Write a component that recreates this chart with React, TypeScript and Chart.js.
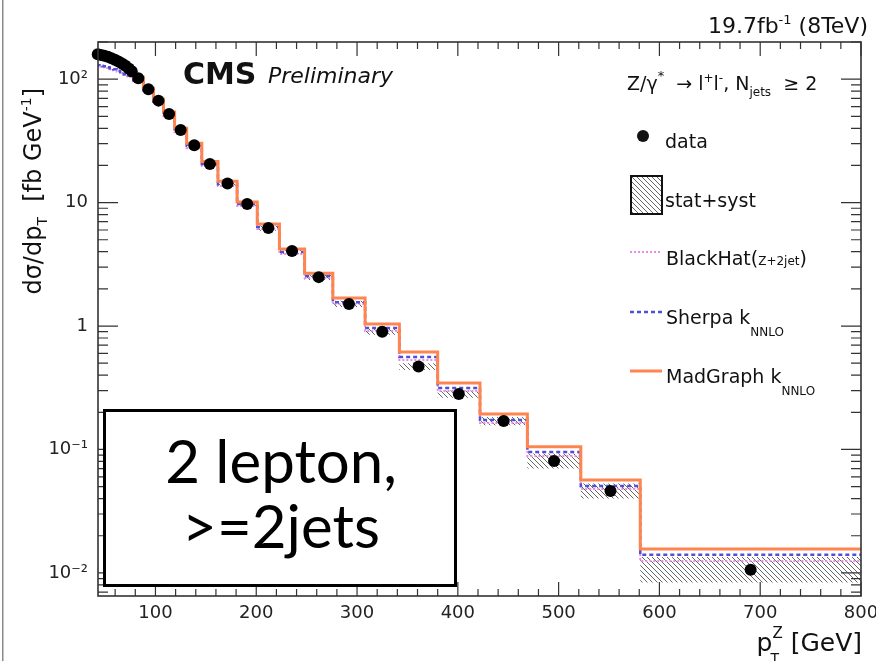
import React, { useEffect, useRef } from "react";
import { Chart, registerables } from "chart.js";

Chart.register(...registerables);

// pT(Z) bin edges [GeV]
const binEdges = [
  41, 44.5, 47.5, 51, 54.5, 58, 61.5, 65, 68.5, 72, 75, 78, 88, 98, 108, 119, 131, 146, 162, 181, 201,
  223, 248, 276, 308, 342, 380, 422, 469, 522, 581, 800,
];

// measured dσ/dpT [fb/GeV], one value per bin
const dataValues = [
  159.4, 157.0, 154.7, 151.9, 147.9, 143.8, 139.1, 134.0, 128.6, 122.1, 116.1, 101.9, 83.0, 67.0, 52.1,
  38.7, 29.2, 20.5, 14.3, 9.73, 6.22, 4.05, 2.49, 1.51, 0.9, 0.47, 0.281, 0.17, 0.0807, 0.0461, 0.0106,
];

// relative stat+syst uncertainty on the measurement
const statSystRel = [
  0.04, 0.04, 0.04, 0.04, 0.04, 0.04, 0.04, 0.04, 0.04, 0.04, 0.04, 0.04, 0.04, 0.04, 0.04, 0.04, 0.04,
  0.045, 0.045, 0.05, 0.05, 0.05, 0.055, 0.06, 0.06, 0.065, 0.07, 0.08, 0.15, 0.15, 0.27,
];

// theory predictions [fb/GeV]
const blackHatValues = [
  127, 126, 125, 123, 120.5, 118, 115, 112, 108, 105, 102, 96.3, 80.0, 65.2, 50.1, 37.2, 27.6, 19.8, 13.6,
  9.37, 6.1, 3.83, 2.45, 1.51, 0.911, 0.531, 0.298, 0.164, 0.0886, 0.0478, 0.0125,
];
const sherpaValues = [
  129.8, 128.6, 127.4, 125.1, 122.8, 120.5, 117.2, 114.0, 109.8, 106.7, 103.8, 98.1, 81.5, 65.8, 51.2,
  37.9, 28.7, 20.5, 14.1, 9.73, 6.34, 3.97, 2.54, 1.56, 0.963, 0.561, 0.315, 0.173, 0.0955, 0.0506, 0.014,
];
const madGraphValues = [
  158, 156, 154, 151, 147, 143, 138.5, 133.5, 128, 121.5, 115.5, 103.8, 84.5, 68.9, 54.1, 40.1, 30.3, 21.5,
  14.9, 10.1, 6.7, 4.2, 2.68, 1.69, 1.04, 0.615, 0.345, 0.194, 0.105, 0.0566, 0.0156,
];

const xTickValues = [100, 200, 300, 400, 500, 600, 700, 800];
const yTickValues = [0.01, 0.1, 1, 10, 100];
const yTickLabels = ["10⁻²", "10⁻¹", "1", "10", "10²"];

const X_MIN = 43;
const X_MAX = 800;
const Y_MIN = 0.0065;
const Y_MAX = 200;

const ROOT_FONT = '"DejaVu Sans", "Liberation Sans", sans-serif';
const AXIS_COLOR = "#333";
const ORANGE = "rgb(255,133,80)";
const BLUE = "rgb(80,80,215)";
const PINK = "rgb(232,140,232)";

type Pt = { x: number; y: number };

function stepSeries(values: number[]): Pt[] {
  return binEdges.map((x, i) => ({ x, y: values[Math.min(i, values.length - 1)] }));
}

function centerSeries(values: number[]): Pt[] {
  return values.map((y, i) => ({ x: (binEdges[i] + binEdges[i + 1]) / 2, y }));
}

function makeHatch(ctx: CanvasRenderingContext2D): CanvasPattern {
  const size = 5;
  const tile = document.createElement("canvas");
  tile.width = size;
  tile.height = size;
  const g = tile.getContext("2d")!;
  g.strokeStyle = "#666";
  g.lineWidth = 1;
  g.beginPath();
  g.moveTo(-1, -1);
  g.lineTo(size + 1, size + 1);
  g.moveTo(-1, size - 1);
  g.lineTo(1, size + 1);
  g.moveTo(size - 1, -1);
  g.lineTo(size + 1, 1);
  g.stroke();
  return ctx.createPattern(tile, "repeat")!;
}

type Run = { t: string; size?: number; dy?: number; weight?: string; style?: string; family?: string };

function runFont(r: Run, base: number) {
  return `${r.style ?? "normal"} ${r.weight ?? "normal"} ${r.size ?? base}px ${r.family ?? ROOT_FONT}`;
}

function measureRuns(ctx: CanvasRenderingContext2D, runs: Run[], base: number) {
  let w = 0;
  for (const r of runs) {
    ctx.font = runFont(r, base);
    w += ctx.measureText(r.t).width;
  }
  return w;
}

function drawRuns(ctx: CanvasRenderingContext2D, x: number, y: number, runs: Run[], base: number) {
  let cx = x;
  for (const r of runs) {
    ctx.font = runFont(r, base);
    ctx.fillText(r.t, cx, y + (r.dy ?? 0));
    cx += ctx.measureText(r.t).width;
  }
  return cx;
}

// ROOT-style frame with inward tick marks on all four sides
const framePlugin = {
  id: "rootFrame",
  afterDatasetsDraw(chart: any) {
    const { ctx, chartArea: a, scales } = chart;
    const xs = scales.x;
    const ys = scales.y;
    ctx.save();
    ctx.strokeStyle = AXIS_COLOR;
    ctx.lineWidth = 1.2;
    ctx.beginPath();
    for (let v = 20 * Math.ceil(X_MIN / 20); v <= X_MAX; v += 20) {
      const px = xs.getPixelForValue(v);
      const len = v % 100 === 0 ? 14 : 7;
      ctx.moveTo(px, a.bottom);
      ctx.lineTo(px, a.bottom - len);
      ctx.moveTo(px, a.top);
      ctx.lineTo(px, a.top + len);
    }
    for (let e = -3; e <= 2; e++) {
      for (let m = 1; m <= 9; m++) {
        const v = m * Math.pow(10, e);
        if (v < Y_MIN || v > Y_MAX) continue;
        const py = ys.getPixelForValue(v);
        const len = m === 1 ? 20 : 10;
        ctx.moveTo(a.left, py);
        ctx.lineTo(a.left + len, py);
        ctx.moveTo(a.right, py);
        ctx.lineTo(a.right - len, py);
      }
    }
    ctx.stroke();
    ctx.lineWidth = 1.6;
    ctx.strokeRect(a.left, a.top, a.right - a.left, a.bottom - a.top);
    ctx.restore();
  },
};

const annotationPlugin = {
  id: "annotations",
  afterDraw(chart: any) {
    const ctx: CanvasRenderingContext2D = chart.ctx;
    const hatch = makeHatch(ctx);
    ctx.save();
    ctx.textAlign = "left";
    ctx.textBaseline = "alphabetic";

    // page edge rule
    ctx.fillStyle = "#8a8a8a";
    ctx.fillRect(2, 0, 1.5, chart.height);

    ctx.fillStyle = "#111";

    // luminosity and energy
    const lumi: Run[] = [{ t: "19.7fb" }, { t: "-1", size: 13, dy: -9 }, { t: " (8TeV)" }];
    const lw = measureRuns(ctx, lumi, 22);
    drawRuns(ctx, 868 - lw, 33, lumi, 22);

    // experiment label
    drawRuns(ctx, 183, 84, [{ t: "CMS", weight: "bold" }], 30);
    drawRuns(ctx, 268, 83, [{ t: "Preliminary", style: "italic" }], 22);

    // legend header
    drawRuns(
      ctx,
      627,
      90,
      [
        { t: "Z/γ" },
        { t: "*", size: 13, dy: -10 },
        { t: "  → l" },
        { t: "+", size: 12, dy: -8 },
        { t: "l" },
        { t: "-", size: 12, dy: -8 },
        { t: ", N" },
        { t: "jets", size: 12, dy: 6 },
        { t: "  ≥ 2" },
      ],
      19
    );

    // legend: data
    ctx.beginPath();
    ctx.arc(643, 136, 6, 0, Math.PI * 2);
    ctx.fill();
    drawRuns(ctx, 665, 148, [{ t: "data" }], 19);

    // legend: stat+syst
    ctx.fillStyle = hatch;
    ctx.fillRect(631, 176, 31, 38);
    ctx.strokeStyle = "#111";
    ctx.lineWidth = 2;
    ctx.strokeRect(631, 176, 31, 38);
    ctx.fillStyle = "#111";
    drawRuns(ctx, 665, 207, [{ t: "stat+syst" }], 19);

    // legend: BlackHat
    ctx.lineWidth = 2;
    ctx.strokeStyle = PINK;
    ctx.setLineDash([2, 2]);
    ctx.beginPath();
    ctx.moveTo(630, 252);
    ctx.lineTo(662, 252);
    ctx.stroke();
    drawRuns(ctx, 666, 265, [{ t: "BlackHat(" }, { t: "Z+2jet", size: 12 }, { t: ")" }], 19);

    // legend: Sherpa
    ctx.strokeStyle = BLUE;
    ctx.lineWidth = 2.5;
    ctx.setLineDash([4, 3]);
    ctx.beginPath();
    ctx.moveTo(630, 312);
    ctx.lineTo(662, 312);
    ctx.stroke();
    drawRuns(ctx, 666, 324, [{ t: "Sherpa k" }, { t: "NNLO", size: 12, dy: 12 }], 19);

    // legend: MadGraph
    ctx.strokeStyle = ORANGE;
    ctx.lineWidth = 3;
    ctx.setLineDash([]);
    ctx.beginPath();
    ctx.moveTo(630, 371);
    ctx.lineTo(662, 371);
    ctx.stroke();
    drawRuns(ctx, 666, 383, [{ t: "MadGraph k" }, { t: "NNLO", size: 12, dy: 12 }], 19);

    // y-axis title
    ctx.save();
    ctx.translate(41, 88);
    ctx.rotate(-Math.PI / 2);
    const yTitle: Run[] = [
      { t: "dσ/dp" },
      { t: "T", size: 14, dy: 6 },
      { t: "  [fb GeV" },
      { t: "-1", size: 14, dy: -10 },
      { t: "]" },
    ];
    const yw = measureRuns(ctx, yTitle, 24);
    drawRuns(ctx, -yw, 0, yTitle, 24);
    ctx.restore();

    // x-axis title
    const base = 25;
    ctx.font = runFont({ t: "p" }, base);
    const pW = ctx.measureText("p").width;
    ctx.font = runFont({ t: "Z", size: 15 }, base);
    const zW = ctx.measureText("Z").width;
    ctx.font = runFont({ t: " [GeV]" }, base);
    const gW = ctx.measureText(" [GeV]").width;
    const x0 = 862 - (pW + zW + gW);
    drawRuns(ctx, x0, 651, [{ t: "p" }], base);
    drawRuns(ctx, x0 + pW, 638, [{ t: "Z", size: 15 }], base);
    drawRuns(ctx, x0 + pW - 2, 663, [{ t: "T", size: 14 }], base);
    drawRuns(ctx, x0 + pW + zW, 651, [{ t: " [GeV]" }], base);

    // channel box
    ctx.fillStyle = "#fff";
    ctx.fillRect(104.5, 410.5, 351, 175);
    ctx.strokeStyle = "#000";
    ctx.lineWidth = 3;
    ctx.strokeRect(104.5, 410.5, 351, 175);
    ctx.fillStyle = "#000";
    ctx.textAlign = "center";
    ctx.font = '60px Lato, "Open Sans", sans-serif';
    ctx.fillText("2 lepton,", 281, 483);
    ctx.fillText(">=2jets", 281, 548);

    ctx.restore();
  },
};

export default function App() {
  const canvasRef = useRef<HTMLCanvasElement>(null);

  useEffect(() => {
    const canvas = canvasRef.current!;
    const ctx = canvas.getContext("2d")!;
    const hatch = makeHatch(ctx);

    const bandUpper = dataValues.map((v, i) => v * (1 + statSystRel[i]));
    const bandLower = dataValues.map((v, i) => v / (1 + statSystRel[i]));

    const chart = new Chart(canvas, {
      type: "line",
      data: {
        datasets: [
          {
            label: "data",
            data: centerSeries(dataValues),
            showLine: false,
            pointRadius: 6,
            pointStyle: "circle",
            pointBackgroundColor: "#000",
            pointBorderColor: "#000",
            pointBorderWidth: 0,
            clip: false as any,
          },
          {
            label: "MadGraph kNNLO",
            data: stepSeries(madGraphValues),
            stepped: true,
            borderColor: ORANGE,
            borderWidth: 3,
            pointRadius: 0,
            fill: false,
          },
          {
            label: "Sherpa kNNLO",
            data: stepSeries(sherpaValues),
            stepped: true,
            borderColor: BLUE,
            borderWidth: 2.5,
            borderDash: [4, 3],
            pointRadius: 0,
            fill: false,
          },
          {
            label: "BlackHat(Z+2jet)",
            data: stepSeries(blackHatValues),
            stepped: true,
            borderColor: PINK,
            borderWidth: 2,
            borderDash: [2, 2],
            pointRadius: 0,
            fill: false,
          },
          {
            label: "stat+syst upper",
            data: stepSeries(bandUpper),
            stepped: true,
            borderColor: "rgba(0,0,0,0)",
            borderWidth: 1,
            pointRadius: 0,
            fill: false,
          },
          {
            label: "stat+syst",
            data: stepSeries(bandLower),
            stepped: true,
            borderColor: "rgba(0,0,0,0)",
            borderWidth: 1,
            pointRadius: 0,
            backgroundColor: hatch as any,
            fill: "-1",
          },
        ],
      },
      options: {
        responsive: false,
        animation: false,
        devicePixelRatio: 1,
        events: [],
        layout: { padding: { top: 42, right: 15, left: 0, bottom: 0 } },
        plugins: {
          legend: { display: false },
          tooltip: { enabled: false },
        },
        scales: {
          x: {
            type: "linear",
            min: X_MIN,
            max: X_MAX,
            grid: { display: false, drawTicks: false },
            border: { display: false },
            ticks: {
              autoSkip: false,
              maxRotation: 0,
              padding: 7,
              color: "#222",
              font: { family: ROOT_FONT, size: 18 },
              callback: (v: any) => String(v),
            },
            afterBuildTicks: (axis: any) => {
              axis.ticks = xTickValues.map((value) => ({ value }));
            },
            afterFit: (axis: any) => {
              axis.height = 65;
              axis.paddingLeft = 0;
              axis.paddingRight = 0;
            },
          },
          y: {
            type: "logarithmic",
            min: Y_MIN,
            max: Y_MAX,
            grid: { display: false, drawTicks: false },
            border: { display: false },
            ticks: {
              autoSkip: false,
              padding: 10,
              color: "#222",
              font: { family: ROOT_FONT, size: 18 },
              callback: (v: any) => {
                const i = yTickValues.indexOf(Number(v));
                return i >= 0 ? yTickLabels[i] : "";
              },
            },
            afterBuildTicks: (axis: any) => {
              axis.ticks = yTickValues.map((value) => ({ value }));
            },
            afterFit: (axis: any) => {
              axis.width = 98;
              axis.paddingTop = 0;
              axis.paddingBottom = 0;
            },
          },
        },
      },
      plugins: [framePlugin, annotationPlugin],
    } as any);

    return () => chart.destroy();
  }, []);

  return (
    <div style={{ position: "fixed", left: 0, top: 0, width: 876, height: 661, background: "#fff" }}>
      <canvas ref={canvasRef} width={876} height={661} style={{ display: "block", width: 876, height: 661 }} />
    </div>
  );
}
